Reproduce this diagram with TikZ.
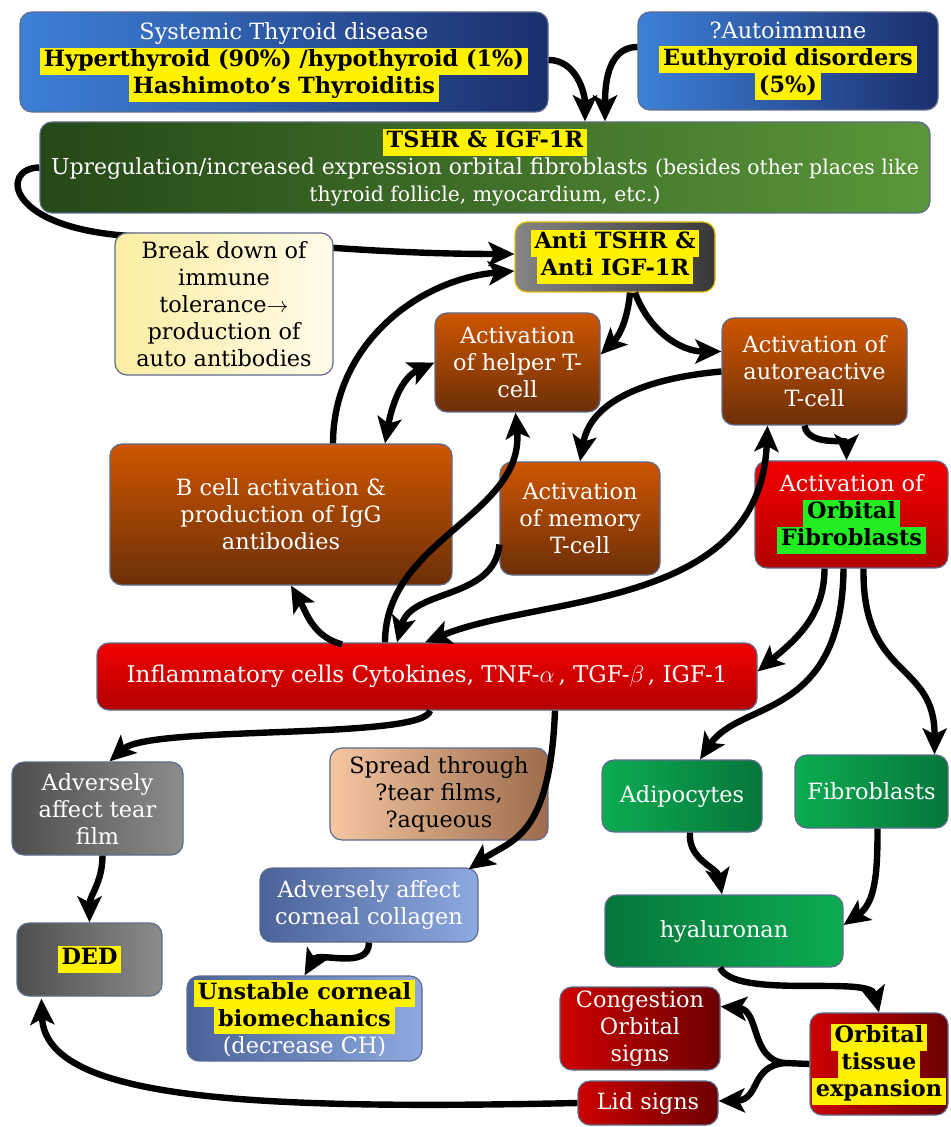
\documentclass[tikz,border=0pt]{standalone}
\usepackage{fontspec}
\setmainfont{DejaVu Serif}
\usetikzlibrary{arrows.meta,calc,backgrounds}

\definecolor{edgeblue}{HTML}{5E6B8C}
\definecolor{sysL}{HTML}{3D80D8}
\definecolor{sysR}{HTML}{1B2E6C}
\definecolor{tshrL}{HTML}{254817}
\definecolor{tshrR}{HTML}{5A963A}
\definecolor{brkL}{HTML}{FBEDA2}
\definecolor{brkR}{HTML}{FFFBEA}
\definecolor{antiL}{HTML}{858585}
\definecolor{antiR}{HTML}{383838}
\definecolor{antiEdge}{HTML}{E6BE00}
\definecolor{brownT}{HTML}{CE5600}
\definecolor{brownB}{HTML}{6C2F08}
\definecolor{redT}{HTML}{F20000}
\definecolor{redB}{HTML}{B20000}
\definecolor{grayL}{HTML}{4E4E4E}
\definecolor{grayR}{HTML}{8C8C8C}
\definecolor{peachL}{HTML}{F4C6A2}
\definecolor{peachR}{HTML}{9C6C4C}
\definecolor{bluegL}{HTML}{4A6298}
\definecolor{bluegR}{HTML}{8EAAE0}
\definecolor{greenL}{HTML}{0CAC52}
\definecolor{greenR}{HTML}{06763A}
\definecolor{dredL}{HTML}{CC0000}
\definecolor{dredR}{HTML}{6C0000}
\definecolor{hlgreen}{HTML}{22EE22}

\newcommand\hly[1]{{\setlength{\fboxsep}{0pt}\colorbox{yellow}{\strut\,#1\,}}}
\newcommand\hlg[1]{{\setlength{\fboxsep}{0pt}\colorbox{hlgreen}{\strut\,#1\,}}}
\newcommand\smallfont{\fontsize{10.2}{13.5}\selectfont}

\tikzset{
  box/.style={rounded corners=6pt, draw=edgeblue, line width=0.6pt, inner sep=0pt,
    align=center, text=white, font=\fontsize{11.2}{13.5}\selectfont},
  link/.style={line width=3.2pt, -{Stealth[length=13pt,width=12pt,inset=3pt]}},
  linkboth/.style={line width=3.2pt, {Stealth[length=13pt,width=12pt,inset=3pt]}-{Stealth[length=13pt,width=12pt,inset=3pt]}},
  plain/.style={line width=3.2pt},
}

\begin{document}
\begin{tikzpicture}[x=0.5pt,y=-0.5pt]
	%%%%% START %%%%%
	\useasboundingbox (0,0) rectangle (950,1127);

	% top row
	\node[box, left color=sysL, right color=sysR, minimum width=264pt, minimum height=50pt] (sys) at (284,62)
		{Systemic Thyroid disease\\ \hly{\textcolor{black}{\textbf{Hyperthyroid (90\%) /hypothyroid (1\%)}}}\\ \hly{\textcolor{black}{\textbf{Hashimoto’s Thyroiditis}}}};
	\node[box, left color=sysL, right color=sysR, minimum width=150pt, minimum height=49pt] (auto) at (788,61)
		{?Autoimmune\\ \hly{\textcolor{black}{\textbf{Euthyroid disorders}}}\\ \hly{\textcolor{black}{\textbf{(5\%)}}}};
	\node[box, left color=tshrL, right color=tshrR, minimum width=445pt, minimum height=45.5pt] (tshr) at (485,167.5)
		{\hly{\textcolor{black}{\textbf{TSHR \& IGF-1R}}}\\ {\fontsize{11}{13.5}\selectfont Upregulation/increased expression orbital fibroblasts} {\smallfont (besides other places like}\\ {\smallfont thyroid follicle, myocardium, etc.)}};

	% immune cascade
	\node[box, left color=brkL, right color=brkR, text=black, minimum width=109pt, minimum height=71pt] (break) at (224,304)
		{Break down of\\ immune\\ tolerance$\rightarrow$\\ production of\\ auto antibodies};
	\node[box, left color=antiL, right color=antiR, draw=antiEdge, minimum width=100pt, minimum height=35pt] (anti) at (615,257)
		{\hly{\textcolor{black}{\textbf{Anti TSHR \&}}}\\ \hly{\textcolor{black}{\textbf{Anti IGF-1R}}}};
	\node[box, top color=brownT, bottom color=brownB, minimum width=82.5pt, minimum height=49.5pt] (helper) at (517.5,362.5)
		{Activation\\ of helper T-\\ cell};
	\node[box, top color=brownT, bottom color=brownB, minimum width=92.5pt, minimum height=53.5pt] (autoreact) at (814.5,371.5)
		{Activation of\\ autoreactive\\ T-cell};
	\node[box, top color=brownT, bottom color=brownB, minimum width=171pt, minimum height=70.5pt] (bcell) at (281,514.5)
		{B cell activation \&\\ production of IgG\\ antibodies};
	\node[box, top color=brownT, bottom color=brownB, minimum width=80pt, minimum height=56.5pt] (memory) at (580,518.5)
		{Activation\\ of memory\\ T-cell};
	\node[box, top color=redT, bottom color=redB, minimum width=96.5pt, minimum height=53.5pt] (orbfib) at (851.5,514.5)
		{Activation of\\ \hlg{\textcolor{black}{\textbf{Orbital}}}\\ \hlg{\textcolor{black}{\textbf{Fibroblasts}}}};
	\node[box, top color=redT, bottom color=redB, minimum width=330pt, minimum height=33.5pt, font=\fontsize{11.5}{13.5}\selectfont] (inflam) at (427,676.5)
		{Inflammatory cells Cytokines, TNF-$\alpha$\,, TGF-$\beta$\,, IGF-1};

	% ocular surface
	\node[box, left color=grayL, right color=grayR, minimum width=85.5pt, minimum height=46.5pt] (tear) at (97.5,808.5)
		{Adversely\\ affect tear\\ film};
	\node[box, left color=peachL, right color=peachR, text=black, minimum width=109pt, minimum height=46pt] (spread) at (439,794)
		{Spread through\\ ?tear films,\\ ?aqueous};
	\node[box, left color=bluegL, right color=bluegR, minimum width=109pt, minimum height=37pt] (cornea) at (369,905)
		{Adversely affect\\ corneal collagen};
	\node[box, left color=grayL, right color=grayR, minimum width=72.5pt, minimum height=36.5pt] (ded) at (89.5,959.5)
		{\hly{\textcolor{black}{\textbf{DED}}}};
	\node[box, left color=bluegL, right color=bluegR, minimum width=117.5pt, minimum height=42.5pt] (unstable) at (304.5,1018.5)
		{\hly{\textcolor{black}{\textbf{Unstable corneal}}}\\ \hly{\textcolor{black}{\textbf{biomechanics}}}\\ (decrease CH)};

	% orbit
	\node[box, left color=greenL, right color=greenR, minimum width=80pt, minimum height=36pt] (adipo) at (682,796) {Adipocytes};
	\node[box, left color=greenL, right color=greenR, minimum width=76.5pt, minimum height=36.5pt] (fibro) at (871.5,791.5) {Fibroblasts};
	\node[box, left color=greenR, right color=greenL, minimum width=119pt, minimum height=36pt] (hyal) at (724,931) {hyaluronan};
	\node[box, left color=dredL, right color=dredR, minimum width=80pt, minimum height=41.5pt] (congest) at (640,1028.5)
		{Congestion\\ Orbital\\ signs};
	\node[box, left color=dredL, right color=dredR, minimum width=70pt, minimum height=22pt] (lid) at (648,1103) {Lid signs};
	\node[box, left color=dredL, right color=dredR, minimum width=69pt, minimum height=51pt] (orbtis) at (879,1064)
		{\hly{\textcolor{black}{\textbf{Orbital}}}\\ \hly{\textcolor{black}{\textbf{tissue}}}\\ \hly{\textcolor{black}{\textbf{expansion}}}};

	% arrows
	\draw[link] ($(sys.east)+(0,-2)$) to[out=0,in=90] ($(tshr.north)+(100,0)$);
	\draw[link] ($(auto.west)+(0,-14)$) to[out=180,in=90] ($(tshr.north)+(120,0)$);
	\begin{pgfonlayer}{background}
		\draw[link] (tshr.west) .. controls (0,168) and (5,228) .. (130,236) to[out=-2,in=180] ($(anti.west)+(0,-3)$);
	\end{pgfonlayer}
	\draw[link] ($(bcell.north)+(52,0)$) to[out=90,in=185] ($(anti.west)+(0,14)$);
	\draw[linkboth] ($(bcell.north)+(104,0)$) to[out=80,in=205] (helper.west);
	\draw[link] ($(anti.south)+(15,0)$) to[out=-95,in=45] ($(helper.east)+(0,-8)$);
	\draw[link] ($(anti.south)+(20,0)$) to[out=-70,in=180] ($(autoreact.west)+(0,-20)$);
	\draw[link] (autoreact.west) to[out=185,in=80] (memory.north);
	\draw[link] ($(autoreact.south)+(-10,0)$) to[out=-80,in=90] ($(orbfib.north)+(-5,0)$);
	\draw[link] ($(inflam.north)+(-42,0)$) to[out=90,in=-85] ($(helper.south)+(-2,0)$);
	\draw[link] ($(memory.west)+(0,26)$) to[out=-95,in=75] ($(inflam.north)+(-30,0)$);
	\draw[linkboth] ($(inflam.north)+(-2,0)$) .. controls (540,595) and (760,610) .. ($(autoreact.south)+(-47,0)$);
	\draw[link] ($(inflam.north)+(-85,2)$) to[out=165,in=-60] ($(bcell.south)+(10,0)$);
	\draw[link] ($(orbfib.south)+(-27,0)$) to[out=-90,in=40] ($(inflam.east)+(0,-5)$);
	\draw[link] ($(orbfib.south)+(-8,0)$) .. controls (842,720) and (740,700) .. ($(adipo.north)+(18,0)$);
	\draw[link] ($(orbfib.south)+(12,0)$) .. controls (862,680) and (935,660) .. ($(fibro.north)+(63,0)$);
	\draw[link] ($(inflam.south)+(3,0)$) .. controls (425,740) and (150,725) .. ($(tear.north)+(12,0)$);
	\draw[link] ($(inflam.south)+(128,0)$) .. controls (550,840) and (510,840) .. ($(cornea.north east)+(-10,2)$);
	\draw[link] ($(tear.south)+(5,0)$) to[out=-90,in=90] (ded.north);
	\draw[link] (cornea.south) to[out=-90,in=60] (unstable.north);
	\draw[link] ($(adipo.south)+(8,0)$) to[out=-95,in=100] ($(hyal.north)+(-2,0)$);
	\draw[link] ($(fibro.south)+(6,0)$) to[out=-90,in=35] ($(hyal.east)+(0,-6)$);
	\draw[link] ($(hyal.south)+(-4,0)$) .. controls (735,1000) and (870,975) .. (orbtis.north);
	\coordinate (fork) at (785,1063);
	\draw[plain] (orbtis.west) -- (fork);
	\draw[link] (fork) .. controls (750,1060) and (760,1010) .. ($(congest.east)+(0,-22)$);
	\draw[link] (fork) .. controls (750,1066) and (760,1100) .. ($(lid.east)+(0,-2)$);
	\draw[link] (lid.west) .. controls (250,1110) and (45,1100) .. ($(ded.south west)+(25,2)$);

	%%%%% END %%%%%
\end{tikzpicture}
\end{document}
